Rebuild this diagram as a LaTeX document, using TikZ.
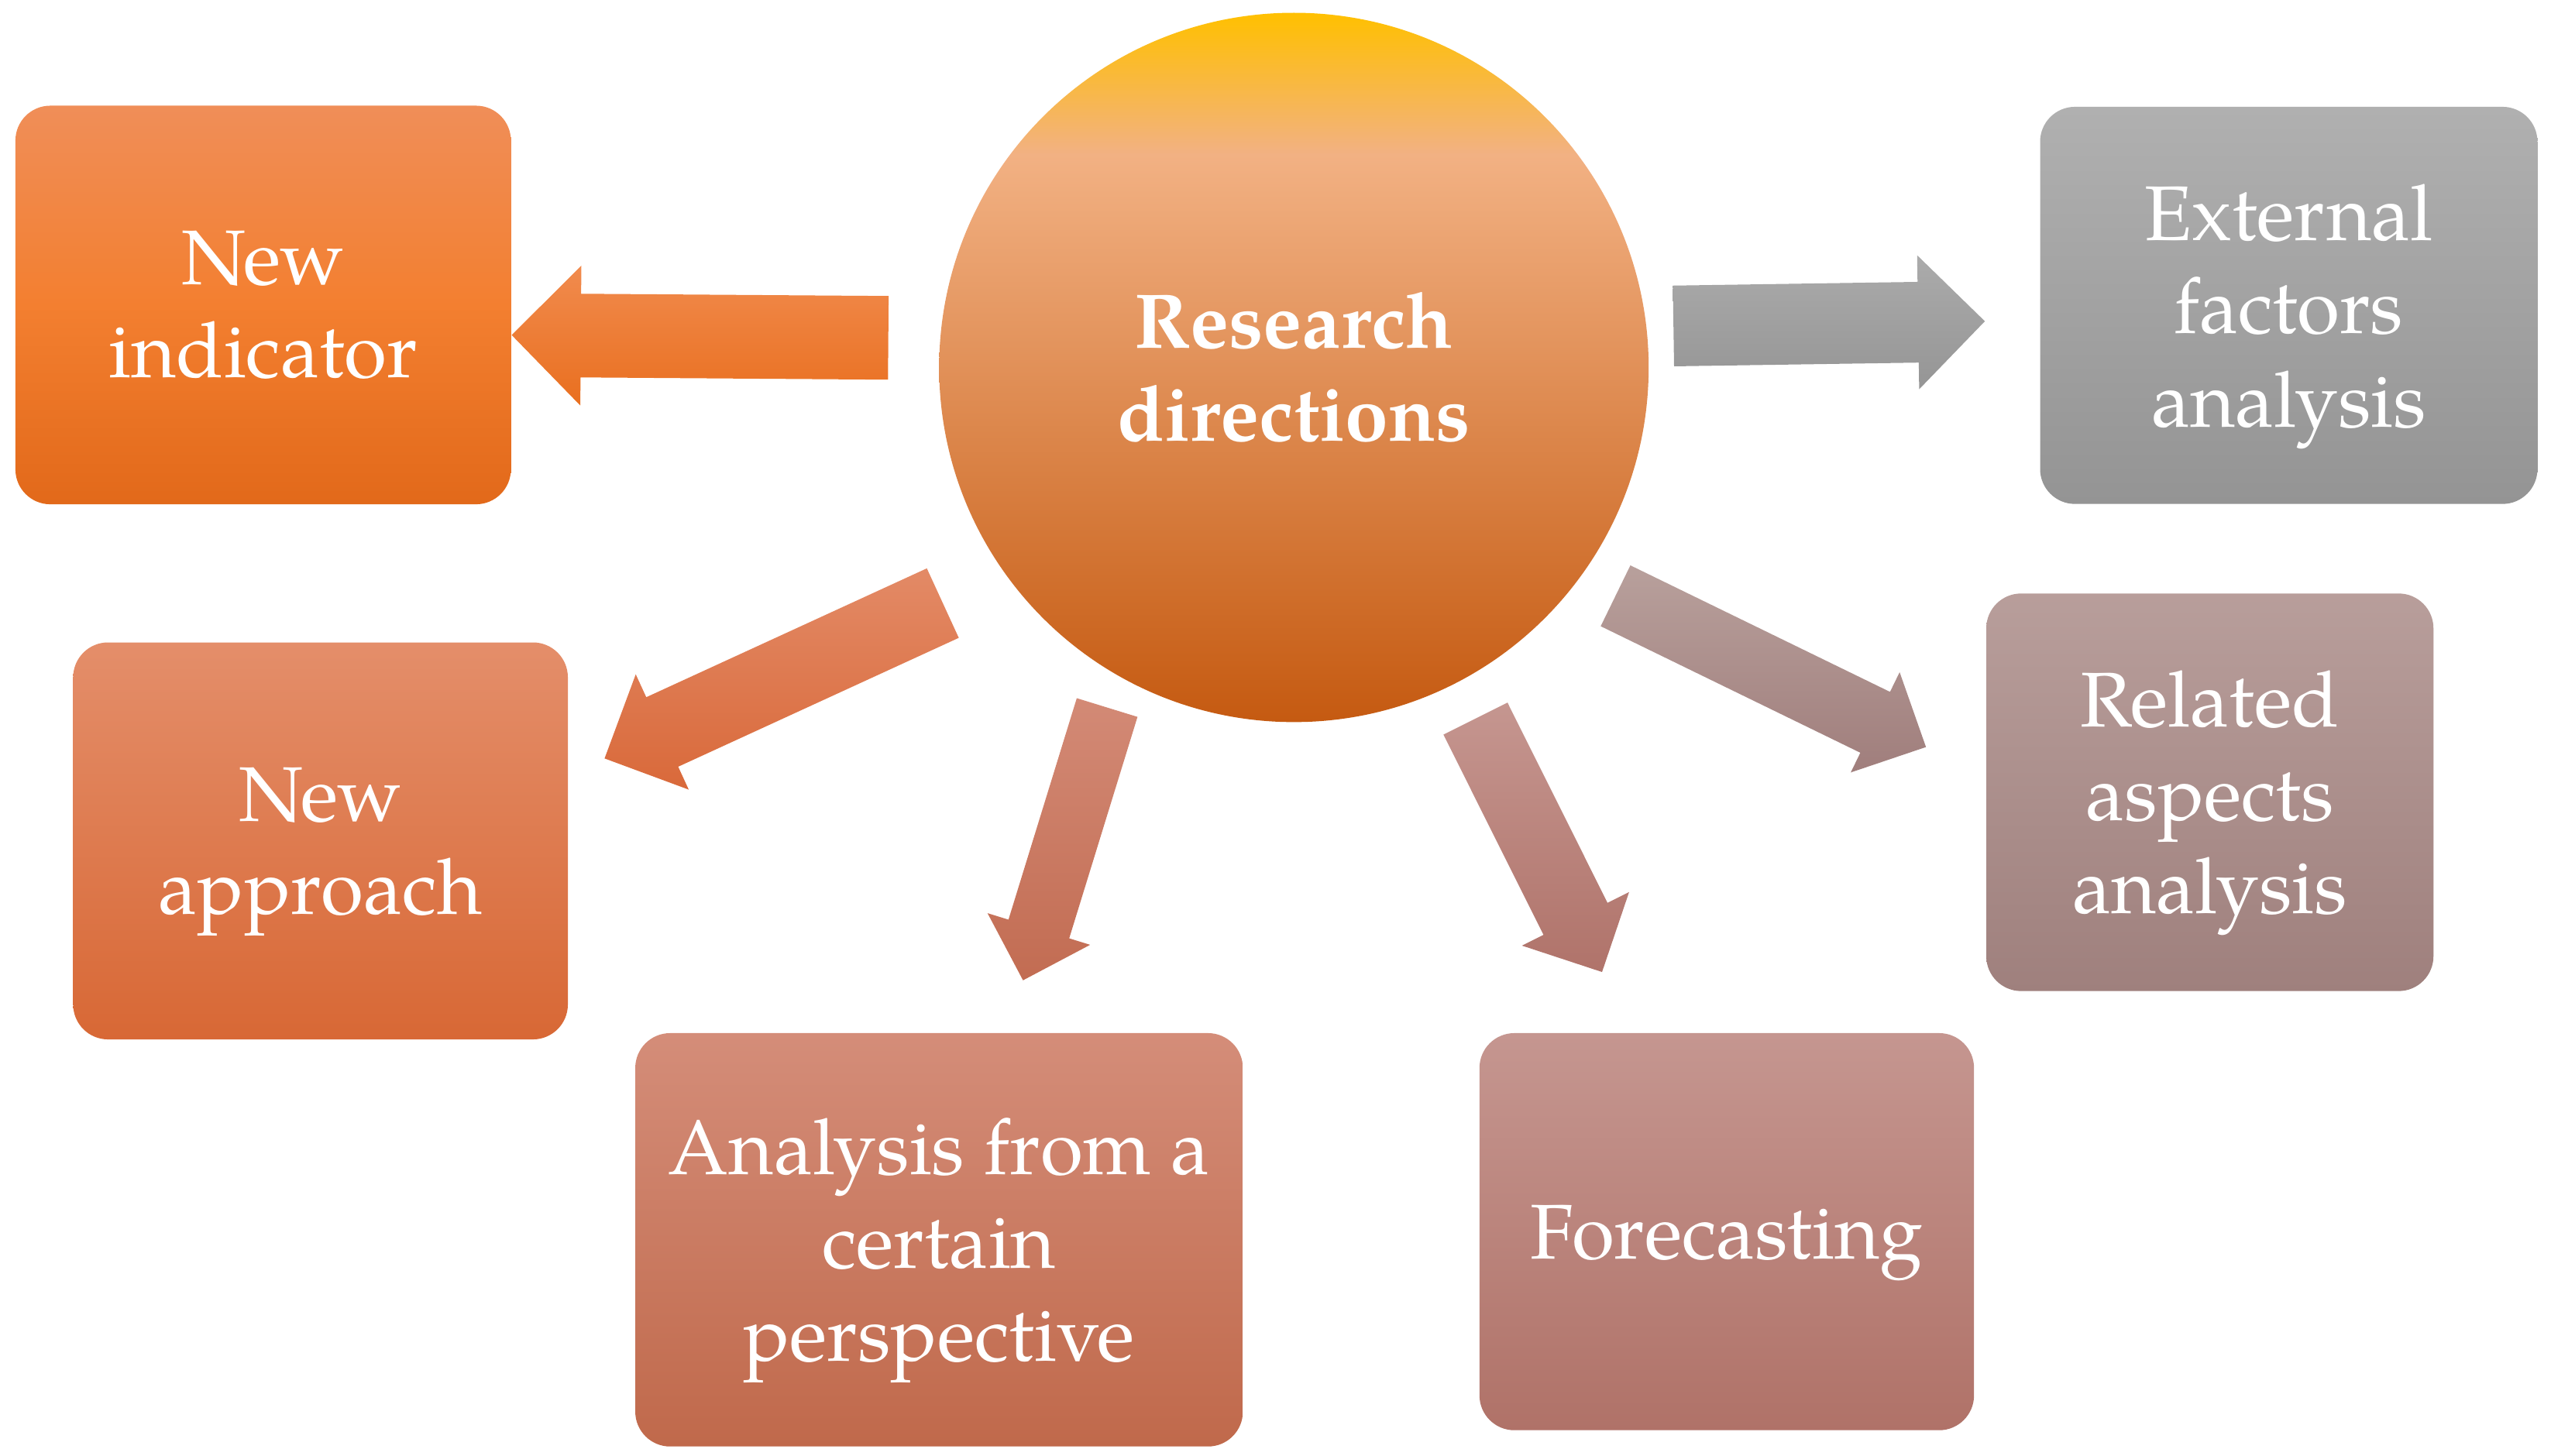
\documentclass[tikz,border=0pt]{standalone}
\usepackage{fontspec}
\setmainfont{texgyrepagella}[Extension=.otf, UprightFont=*-regular, BoldFont=*-bold, ItalicFont=*-italic, BoldItalicFont=*-bolditalic]
\usetikzlibrary{calc}
\definecolor{cirT}{HTML}{FFC000}
\definecolor{cirM}{HTML}{F2B183}
\definecolor{cirB}{HTML}{C55A11}
\definecolor{b1T}{HTML}{F08E58}
\definecolor{b1M}{HTML}{F37F30}
\definecolor{b1B}{HTML}{E2691A}
\definecolor{b2T}{HTML}{B0B0B0}
\definecolor{b2B}{HTML}{949494}
\definecolor{b3T}{HTML}{E48E6A}
\definecolor{b3B}{HTML}{D86835}
\definecolor{b4T}{HTML}{B89E9B}
\definecolor{b4B}{HTML}{9F807D}
\definecolor{b5T}{HTML}{D48D79}
\definecolor{b5B}{HTML}{C0694B}
\definecolor{b6T}{HTML}{C59690}
\definecolor{b6B}{HTML}{B07268}
\definecolor{a1T}{HTML}{F18B4E}
\definecolor{a1B}{HTML}{E96F1F}
\definecolor{a2T}{HTML}{ABABAB}
\definecolor{a2B}{HTML}{959595}
\definecolor{a3T}{HTML}{E38A66}
\definecolor{a3B}{HTML}{D9693A}
\definecolor{a4T}{HTML}{D38A76}
\definecolor{a4B}{HTML}{C26C52}
\definecolor{a5T}{HTML}{C59690}
\definecolor{a5B}{HTML}{B0736A}
\definecolor{a6T}{HTML}{B8A09C}
\definecolor{a6B}{HTML}{A07E7C}
\pgfdeclareverticalshading{circsh}{100bp}{color(0bp)=(cirB); color(25bp)=(cirB); color(65bp)=(cirM); color(75bp)=(cirT); color(100bp)=(cirT)}
% a line with its depth removed, so that boxes centre on cap height to baseline
\newcommand\nodepthline[1]{\raisebox{0pt}[\height][0pt]{#1}}
% #1 tail, #2 tip, #3 shaft half width, #4 head half width, #5 head length, #6 top colour, #7 bottom colour
\newcommand\blockarrow[7]{%
  \path ($(#2)!#5!(#1)$) coordinate (#1-b);
  \shade[top color=#6, bottom color=#7]
    ($(#1)!#3!90:(#2)$) -- ($(#1-b)!#3!90:(#2)$) -- ($(#1-b)!#4!90:(#2)$) -- (#2)
    -- ($(#1-b)!#4!-90:(#2)$) -- ($(#1-b)!#3!-90:(#2)$) -- ($(#1)!#3!-90:(#2)$) -- cycle;
}
\begin{document}
\begin{tikzpicture}[x=0.021cm,y=-0.021cm,
  lbl/.style={text=white, align=center, font=\fontsize{28.5}{34.3}\selectfont},
  rbox/.style={rectangle, rounded corners=0.45cm, inner sep=0pt, shade, lbl}]
\useasboundingbox (0,0) rectangle (1568,895);

% centre
\node[circle, minimum size=9.156cm, inner sep=0pt, shade, shading=circsh, lbl,
      font={\fontsize{28.5}{34.3}\selectfont\bfseries}] (rd) at (795.3,225.9) {Research\\directions};

% boxes
\node[rbox, minimum width=6.394cm, minimum height=5.145cm, top color=b1T, bottom color=b1B, middle color=b1M] (b1) at (161.75,187.5) {New\\indicator};
\node[rbox, minimum width=6.418cm, minimum height=5.126cm, top color=b2T, bottom color=b2B] (b2) at (1406.8,187.75) {External\\factors\\\nodepthline{analysis}};
\node[rbox, minimum width=6.384cm, minimum height=5.124cm, top color=b3T, bottom color=b3B] (b3) at (197,517) {New\\\nodepthline{approach}};
\node[rbox, minimum width=5.771cm, minimum height=5.132cm, top color=b4T, bottom color=b4B] (b4) at (1358.3,487.1) {Related\\aspects\\\nodepthline{analysis}};
\node[rbox, minimum width=7.841cm, minimum height=5.336cm, top color=b5T, bottom color=b5B] (b5) at (577.2,762.25) {Analysis from a\\certain\\\nodepthline{perspective}};
\node[rbox, minimum width=6.382cm, minimum height=5.126cm, top color=b6T, bottom color=b6B] (b6) at (1061.35,757.25) {\nodepthline{Forecasting}};

% arrow ends
\coordinate (t1) at (546,207.7);   \coordinate (p1) at (314.5,206);
\coordinate (t2) at (1028.6,200.4); \coordinate (p2) at (1220,197.5);
\coordinate (t3) at (579.5,370.8); \coordinate (p3) at (371.6,466.3);
\coordinate (t4) at (680.5,435);   \coordinate (p4) at (628.8,602.7);
\coordinate (t5) at (906.9,441.8); \coordinate (p5) at (984.7,597.6);
\coordinate (t6) at (993,366.3);   \coordinate (p6) at (1183.8,459.3);

\blockarrow{t1}{p1}{0.540cm}{0.903cm}{0.8925cm}{a1T}{a1B}
\blockarrow{t2}{p2}{0.521cm}{0.865cm}{0.861cm}{a2T}{a2B}
\blockarrow{t3}{p3}{0.4935cm}{0.819cm}{0.819cm}{a3T}{a3B}
\blockarrow{t4}{p4}{0.41cm}{0.693cm}{0.693cm}{a4T}{a4B}
\blockarrow{t5}{p5}{0.462cm}{0.773cm}{0.767cm}{a5T}{a5B}
\blockarrow{t6}{p6}{0.437cm}{0.72cm}{0.729cm}{a6T}{a6B}
\end{tikzpicture}
\end{document}
